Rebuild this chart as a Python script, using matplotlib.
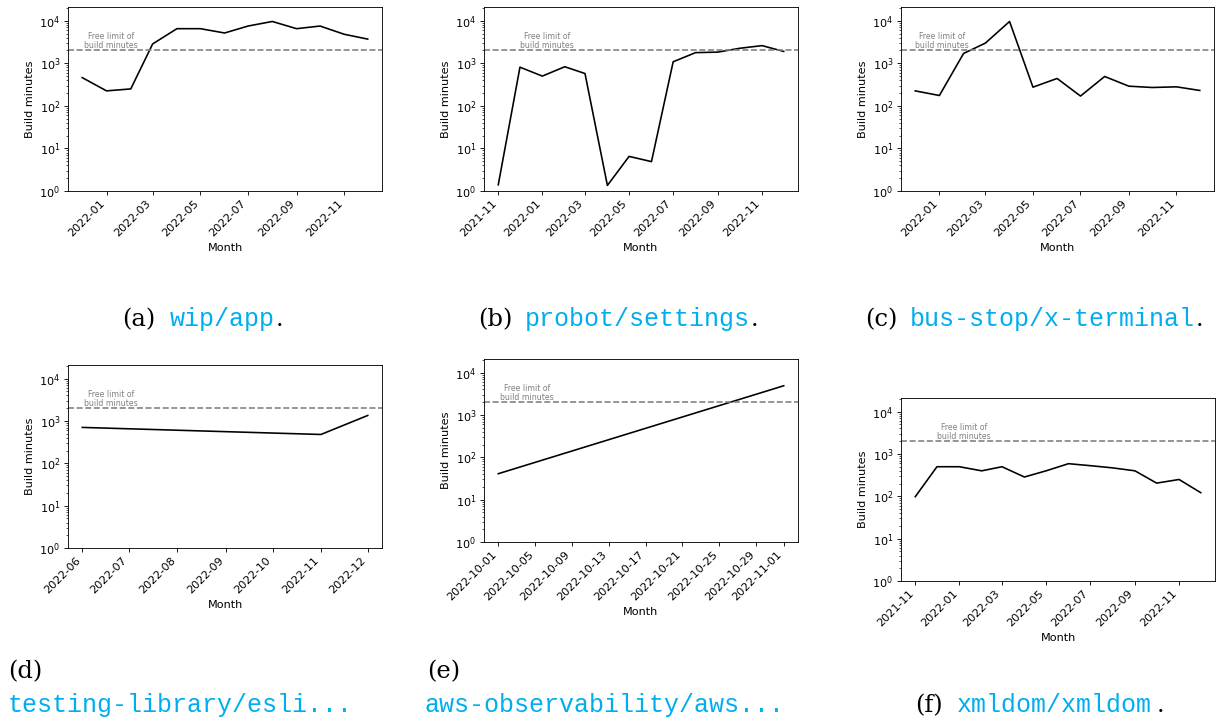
import numpy as np
import pandas as pd
import matplotlib
matplotlib.use("Agg")
from matplotlib import pyplot as plt
import matplotlib.dates as mdates

## DATA (build minutes per month) ##
months_a = ["2021-12", "2022-01", "2022-02", "2022-03", "2022-04", "2022-05", "2022-06",
            "2022-07", "2022-08", "2022-09", "2022-10", "2022-11", "2022-12"]
minutes_a = [460, 225, 250, 2850, 6500, 6500, 5150, 7500, 9600, 6500, 7500, 4800, 3700]

months_b = ["2021-11", "2021-12", "2022-01", "2022-02", "2022-03", "2022-04", "2022-05",
            "2022-06", "2022-07", "2022-08", "2022-09", "2022-10", "2022-11", "2022-12"]
minutes_b = [1.4, 810, 500, 830, 575, 1.35, 6.5, 4.9, 1085, 1780, 1830, 2250, 2600, 1900]

months_c = ["2021-12", "2022-01", "2022-02", "2022-03", "2022-04", "2022-05", "2022-06",
            "2022-07", "2022-08", "2022-09", "2022-10", "2022-11", "2022-12"]
minutes_c = [225, 175, 1700, 2980, 9600, 275, 440, 170, 490, 290, 270, 280, 230]

months_d = ["2022-06", "2022-11", "2022-12"]
minutes_d = [705, 480, 1350]

days_e = ["2022-10-01", "2022-11-01"]
minutes_e = [41, 4900]

months_f = ["2021-11", "2021-12", "2022-01", "2022-02", "2022-03", "2022-04", "2022-05",
            "2022-06", "2022-07", "2022-08", "2022-09", "2022-10", "2022-11", "2022-12"]
minutes_f = [98, 500, 500, 400, 500, 286, 400, 590, 530, 470, 400, 205, 250, 122]

free_limit = 2000

captions = [("(a)", "wip/app", "."),
            ("(b)", "probot/settings", "."),
            ("(c)", "bus-stop/x-terminal", "."),
            ("(d)", "testing-library/esli...", ""),
            ("(e)", "aws-observability/aws...", ""),
            ("(f)", "xmldom/xmldom", ".")]

## STYLE (original looks like default matplotlib shrunk ~0.78) ##
s = 0.78
plt.rcParams.update({
    "font.size": 8.1,
    "axes.linewidth": 0.8 * s,
    "lines.linewidth": 1.5 * s,
    "axes.labelpad": 4 * s,
    "xtick.major.size": 3.5 * s, "ytick.major.size": 3.5 * s,
    "xtick.minor.size": 2 * s, "ytick.minor.size": 2 * s,
    "xtick.major.width": 0.8 * s, "ytick.major.width": 0.8 * s,
    "xtick.minor.width": 0.6 * s, "ytick.minor.width": 0.6 * s,
    "xtick.major.pad": 3.5 * s, "ytick.major.pad": 3.5 * s,
})

W, H = 1221, 721
fig = plt.figure(figsize=(W / 100, H / 100), dpi=100)

def box(left, top, right, bottom):
    return [left / W, 1 - bottom / H, (right - left) / W, (bottom - top) / H]

def panel(rect, dates, values, locator, fmt, text_x):
    ax = fig.add_axes(rect)
    ax.plot(pd.to_datetime(dates), values, color="black")
    ax.axhline(free_limit, color="gray", linestyle="--", lw=1.5 * s)
    ax.text(text_x, free_limit * 1.0, "Free limit of\nbuild minutes",
            transform=ax.get_yaxis_transform(), ha="center", va="bottom",
            fontsize=5.6, color="gray", linespacing=1.1)
    ax.set_yscale("log")
    ax.set_ylim(1, 2.1e4)
    ax.xaxis.set_major_locator(locator)
    ax.xaxis.set_major_formatter(mdates.DateFormatter(fmt))
    plt.setp(ax.get_xticklabels(), rotation=45, ha="right")
    ax.set_xlabel("Month")
    ax.set_ylabel("Build minutes")
    return ax

odd_months = [1, 3, 5, 7, 9, 11]
panel(box(68, 7, 382, 191), months_a, minutes_a,
      mdates.MonthLocator(bymonth=odd_months), "%Y-%m", 0.137)
panel(box(484, 7, 798, 191), months_b, minutes_b,
      mdates.MonthLocator(bymonth=odd_months), "%Y-%m", 0.20)
panel(box(901, 7, 1214, 191), months_c, minutes_c,
      mdates.MonthLocator(bymonth=odd_months), "%Y-%m", 0.13)
panel(box(68, 365, 382, 548), months_d, minutes_d,
      mdates.MonthLocator(), "%Y-%m", 0.137)
panel(box(484, 359, 798, 542), days_e, minutes_e,
      mdates.DayLocator(bymonthday=[1, 5, 9, 13, 17, 21, 25, 29]), "%Y-%m-%d", 0.137)
panel(box(901, 398, 1215, 581), months_f, minutes_f,
      mdates.MonthLocator(bymonth=odd_months), "%Y-%m", 0.20)

## CAPTIONS (LaTeX subfigure style) ##
cyan = "#00AEEF"
serif = ["DejaVu Serif"]
mono = ["Liberation Mono", "DejaVu Sans Mono"]
cap_fs = 18

def caption(x_lab, y_lab, x_name, y_name, x_dot, parts):
    lab, name, dot = parts
    fig.text(x_lab / W, 1 - y_lab / H, lab, family=serif, fontsize=cap_fs - 0.5,
             va="baseline")
    fig.text(x_name / W, 1 - y_name / H, name, family=mono, fontsize=cap_fs,
             color=cyan, va="baseline")
    if dot:
        fig.text(x_dot / W, 1 - y_name / H, dot, family=serif, fontsize=cap_fs - 0.5,
                 va="baseline")

caption(122, 326, 170, 326, 276, captions[0])
caption(478, 326, 525, 326, 751, captions[1])
caption(865, 326, 910, 326, 1196, captions[2])
caption(8, 678, 8, 712, 0, captions[3])
caption(427, 678, 425, 712, 0, captions[4])
caption(915, 712, 957, 712, 1157, captions[5])

fig.savefig("out.png", dpi=100)
